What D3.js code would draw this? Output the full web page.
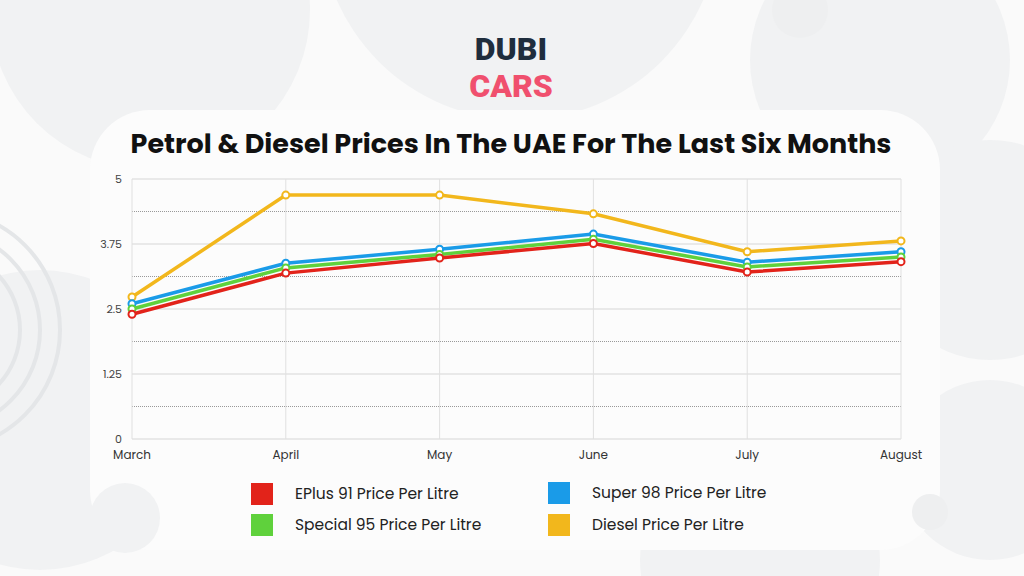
<!DOCTYPE html>
<html><head><meta charset="utf-8">
<script src="https://cdn.jsdelivr.net/npm/d3@7"></script>
<style>body{margin:0;background:#fafafa;overflow:hidden}</style>
</head><body><div class="container"></div>
<script>
const width = 1024, height = 576;
const months = ["March", "April", "May", "June", "July", "August"];
const series = [
  { name: "Diesel Price Per Litre", color: "#f2b71c", values: [2.73, 4.69, 4.69, 4.33, 3.60, 3.81] },
  { name: "Super 98 Price Per Litre", color: "#1a9be8", values: [2.60, 3.38, 3.65, 3.94, 3.40, 3.60] },
  { name: "Special 95 Price Per Litre", color: "#5fd13c", values: [2.50, 3.29, 3.55, 3.84, 3.31, 3.50] },
  { name: "EPlus 91 Price Per Litre", color: "#e2231a", values: [2.40, 3.19, 3.48, 3.76, 3.21, 3.41] }
];

const svg = d3.select(".container").append("svg")
  .attr("width", width).attr("height", height);

// background blobs
const bg = svg.append("g");
bg.append("rect").attr("width", width).attr("height", height).attr("fill", "#fafafa");
[[150, 10, 160], [520, -80, 200], [880, 60, 130], [40, 420, 150], [990, 250, 110], [760, 560, 120], [990, 470, 90]]
  .forEach(([cx, cy, r]) => bg.append("circle").attr("cx", cx).attr("cy", cy).attr("r", r).attr("fill", "#f1f2f3"));
bg.append("rect").attr("x", 90).attr("y", 110).attr("width", 850).attr("height", 440).attr("rx", 60).attr("fill", "#fcfcfc");
[80, 100, 120].forEach(r =>
  bg.append("circle").attr("cx", -60).attr("cy", 330).attr("r", r).attr("fill", "none").attr("stroke", "#e4e6e8").attr("stroke-width", 4));
bg.append("circle").attr("cx", 125).attr("cy", 518).attr("r", 35).attr("fill", "#f1f2f3");
bg.append("circle").attr("cx", 930).attr("cy", 512).attr("r", 18).attr("fill", "#eeeff0");
bg.append("circle").attr("cx", 800).attr("cy", 10).attr("r", 28).attr("fill", "#eeeff0");

// logo
svg.append("text").attr("x", 511).attr("y", 60).attr("text-anchor", "middle")
  .attr("font-family", "Roboto, sans-serif").attr("font-weight", 900).attr("font-size", 32)
  .attr("fill", "#1f2d3d").text("DUBI");
svg.append("text").attr("x", 511).attr("y", 97).attr("text-anchor", "middle")
  .attr("font-family", "Roboto, sans-serif").attr("font-weight", 900).attr("font-size", 32)
  .attr("fill", "#f0506e").text("CARS");

svg.append("text").attr("x", 511).attr("y", 153).attr("text-anchor", "middle")
  .attr("font-family", "Poppins, 'Open Sans', sans-serif").attr("font-weight", 700).attr("font-size", 27)
  .attr("fill", "#111").text("Petrol & Diesel Prices In The UAE For The Last Six Months");

const x = d3.scalePoint().domain(months).range([132, 901]);
const y = d3.scaleLinear().domain([0, 5]).range([439, 179]);

const grid = svg.append("g");
d3.range(0, 5.01, 0.625).forEach((v, i) => {
  grid.append("line").attr("x1", 132).attr("x2", 901).attr("y1", y(v)).attr("y2", y(v))
    .attr("stroke", i % 2 ? "#999" : "#d6d6d6").attr("stroke-dasharray", i % 2 ? "1,1" : null);
});
months.forEach(m => grid.append("line").attr("x1", x(m)).attr("x2", x(m)).attr("y1", 179).attr("y2", 439).attr("stroke", "#e0e0e0"));

svg.append("g").selectAll("text").data([0, 1.25, 2.5, 3.75, 5]).join("text")
  .attr("x", 122).attr("y", d => y(d) + 4).attr("text-anchor", "end")
  .attr("font-family", "Poppins, 'Open Sans', sans-serif").attr("font-size", 11).attr("fill", "#444").text(d => d);
svg.append("g").selectAll("text").data(months).join("text")
  .attr("x", d => x(d)).attr("y", 459).attr("text-anchor", "middle")
  .attr("font-family", "Poppins, 'Open Sans', sans-serif").attr("font-size", 12).attr("fill", "#333").text(d => d);

const line = d3.line().x((d, i) => x(months[i])).y(d => y(d));
const lines = svg.append("g").selectAll("g").data(series).join("g");
lines.append("path").attr("d", d => line(d.values)).attr("fill", "none")
  .attr("stroke", d => d.color).attr("stroke-width", 3.5);
lines.each(function (s) {
  d3.select(this).selectAll("circle").data(s.values).join("circle")
    .attr("cx", (d, i) => x(months[i])).attr("cy", d => y(d)).attr("r", 3.5)
    .attr("fill", "#fff").attr("stroke", s.color).attr("stroke-width", 2);
});

const legend = [
  { name: "EPlus 91 Price Per Litre", color: "#e2231a", x: 251, y: 494 },
  { name: "Special 95 Price Per Litre", color: "#5fd13c", x: 251, y: 525 },
  { name: "Super 98 Price Per Litre", color: "#1a9be8", x: 548, y: 493 },
  { name: "Diesel Price Per Litre", color: "#f2b71c", x: 548, y: 525 }
];
const lg = svg.append("g").selectAll("g").data(legend).join("g");
lg.append("rect").attr("x", d => d.x).attr("y", d => d.y - 11).attr("width", 22).attr("height", 22).attr("fill", d => d.color);
lg.append("text").attr("x", d => d.x + 44).attr("y", d => d.y + 5)
  .attr("font-family", "Poppins, 'Open Sans', sans-serif").attr("font-size", 15.5).attr("fill", "#222").text(d => d.name);
</script></body></html>
